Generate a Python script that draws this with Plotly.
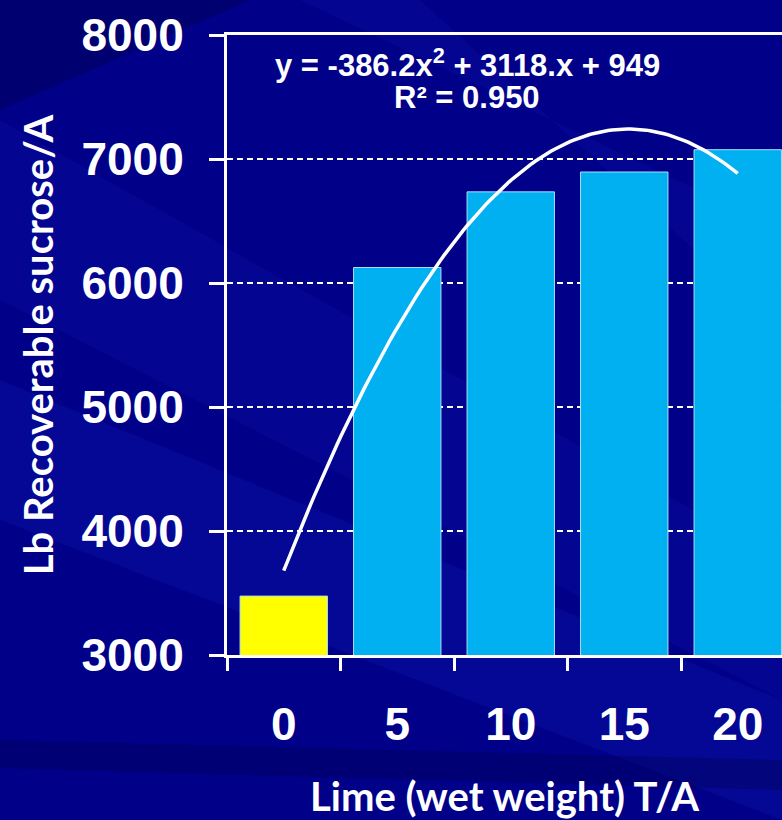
import numpy as np
import plotly.graph_objects as go

# ---- data ----
categories = ["0", "5", "10", "15", "20"]
sucrose = [3475, 6125, 6735, 6895, 7075]
bar_colors = ["#ffff00", "#00b0f0", "#00b0f0", "#00b0f0", "#00b0f0"]
# trendline coefficients as printed on the chart (x = category index 1..5)
trend_coef = [-386.2, 3118.0, 949.0]
y_ticks = [3000, 4000, 5000, 6000, 7000, 8000]

W, H = 782, 820
L, R, T, B = 227, 0, 35, 165
pw, ph = W - L - R, H - T - B

def px(x, y):
    return (x - L) / pw, (H - B - y) / ph

pos = list(range(len(categories)))
x_fit = np.linspace(0, len(categories) - 1, 120)
t = x_fit + 1
y_fit = np.polyval(trend_coef, t)

fig = go.Figure()
fig.add_trace(go.Bar(x=pos, y=sucrose, width=0.77,
                     marker=dict(color=bar_colors, line=dict(color="#a8e0f8", width=1)),
                     showlegend=False, hoverinfo="skip"))
fig.add_trace(go.Scatter(x=x_fit, y=y_fit, mode="lines",
                         line=dict(color="white", width=3.5),
                         showlegend=False, hoverinfo="skip"))

# background streaks
def poly(pts, color):
    d = ""
    for i, (a, b) in enumerate(pts):
        xx, yy = px(a, b)
        d += ("M" if i == 0 else "L") + f"{xx},{yy} "
    d += "Z"
    fig.add_shape(type="path", path=d, xref="paper", yref="paper",
                  fillcolor=color, line=dict(width=0), layer="below")

poly([(0, 120), (0, 300), (782, 700), (782, 560)], "rgba(20,30,190,0.18)")
poly([(0, 380), (0, 520), (782, 820), (782, 700)], "rgba(25,40,200,0.20)")
poly([(300, 0), (420, 0), (782, 330), (782, 230)], "rgba(30,40,200,0.15)")
poly([(0, 0), (0, 110), (250, 0)], "rgba(0,0,60,0.30)")
poly([(0, 740), (782, 760), (782, 790), (0, 768)], "rgba(0,0,70,0.30)")

eqfont = dict(family="Liberation Sans, Arial", size=31, color="white", weight="bold")
fig.add_annotation(text="y = -386.2x<sup>2</sup> + 3118.x + 949",
                   xref="paper", yref="paper", x=px(467, 0)[0], y=px(0, 63)[1],
                   showarrow=False, xanchor="center", yanchor="middle", font=eqfont)
fig.add_annotation(text="R² = 0.950",
                   xref="paper", yref="paper", x=px(467, 0)[0], y=px(0, 98)[1],
                   showarrow=False, xanchor="center", yanchor="middle", font=eqfont)

tickfont = dict(family="Liberation Sans, Arial", size=46, color="white", weight="bold")
titlefont = dict(family="Lato, Liberation Sans", size=40, color="white", weight="bold")
xr = [-0.5, -0.5 + pw / 113.5]

fig.update_layout(
    width=W, height=H,
    margin=dict(l=L, r=R, t=T, b=B, autoexpand=False),
    paper_bgcolor="#000088", plot_bgcolor="rgba(0,0,0,0)",
    xaxis=dict(range=xr, tickvals=[p - 0.5 for p in pos], ticks="outside", ticklen=13,
               tickwidth=3, tickcolor="white", showticklabels=False, showline=True,
               linecolor="white", linewidth=3, mirror=True, showgrid=False, zeroline=False),
    xaxis2=dict(range=xr, overlaying="x", side="bottom", anchor="y", tickvals=pos,
                ticktext=categories, ticks="", showline=False, showgrid=False, zeroline=False,
                tickfont=tickfont, ticklabelstandoff=38,
                title=dict(text="Lime (wet weight) T/A", font=titlefont, standoff=35)),
    yaxis=dict(range=[3000, 8000], tickvals=y_ticks, ticks="outside", ticklen=15,
               tickwidth=3, tickcolor="white", showline=True, linecolor="white",
               linewidth=3, showgrid=True, gridcolor="white", gridwidth=2,
               griddash="6px,4px", zeroline=False, tickfont=tickfont,
               ticklabelstandoff=16,
               title=dict(text="Lb Recoverable sucrose/A", font=titlefont, standoff=16)),
)
# helper trace to activate xaxis2
fig.add_trace(go.Scatter(x=[0], y=[None], xaxis="x2", showlegend=False, hoverinfo="skip"))

fig.write_html("out.html", config={"displayModeBar": False},
               post_script="document.body.style.margin='0';document.body.style.overflow='hidden';")
